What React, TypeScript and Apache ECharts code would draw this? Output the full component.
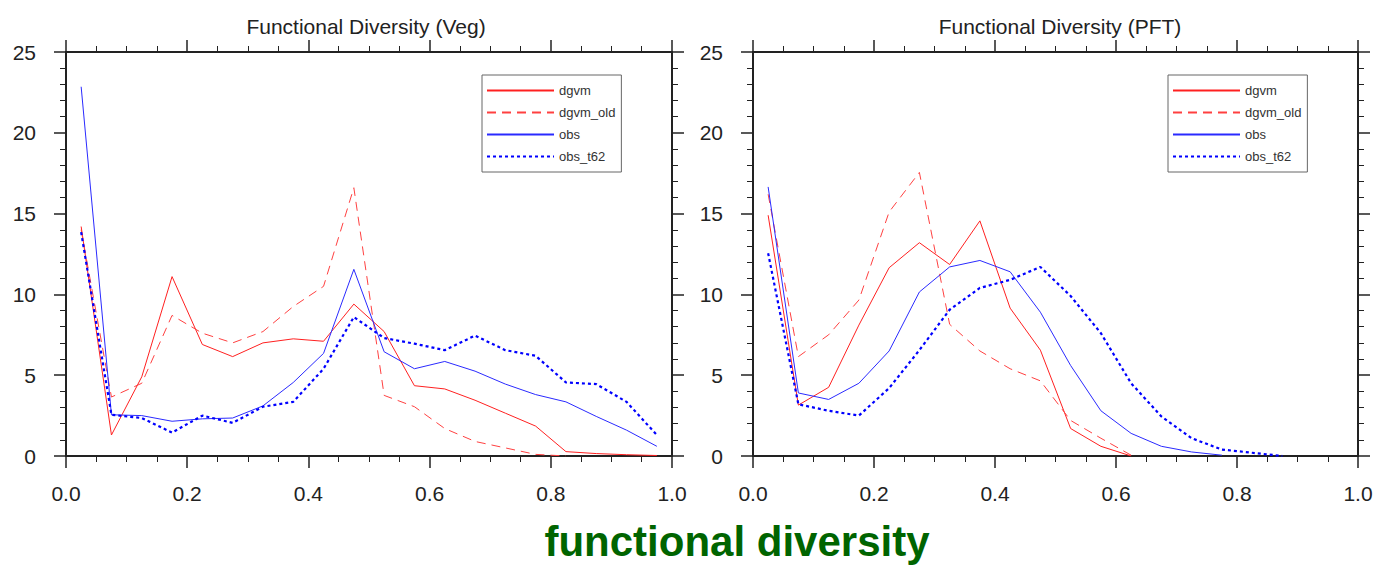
import React, { useEffect, useRef } from "react";
import * as echarts from "echarts";

// Bin centres of the functional-diversity histogram
const binCenters = [
  0.025, 0.075, 0.125, 0.175, 0.225, 0.275, 0.325, 0.375, 0.425, 0.475,
  0.525, 0.575, 0.625, 0.675, 0.725, 0.775, 0.825, 0.875, 0.925, 0.975,
];

const seriesNames = ["dgvm", "dgvm_old", "obs", "obs_t62"];
const panelTitles = ["Functional Diversity (Veg)", "Functional Diversity (PFT)"];
const xAxisTitle = "functional diversity";

// Left panel (Veg)
const vegDgvm = [14.2, 1.3, 4.9, 11.1, 6.9, 6.15, 7.0, 7.25, 7.1, 9.4, 7.7, 4.35, 4.15, 3.45, 2.65, 1.85, 0.27, 0.15, 0.08, 0.03];
const vegDgvmOld = [14.0, 3.65, 4.5, 8.7, 7.6, 7.0, 7.7, 9.25, 10.5, 16.6, 3.75, 3.05, 1.7, 0.9, 0.5, 0.1, 0.0, null, null, null];
const vegObs = [22.85, 2.55, 2.5, 2.15, 2.3, 2.35, 3.1, 4.55, 6.35, 11.55, 6.45, 5.4, 5.85, 5.25, 4.45, 3.8, 3.35, 2.45, 1.6, 0.6];
const vegObsT62 = [13.85, 2.55, 2.35, 1.45, 2.5, 2.05, 3.05, 3.35, 5.4, 8.6, 7.3, 6.95, 6.55, 7.45, 6.55, 6.2, 4.55, 4.45, 3.35, 1.3];

// Right panel (PFT)
const pftDgvm = [14.9, 3.15, 4.25, 8.1, 11.65, 13.2, 11.85, 14.55, 9.15, 6.55, 1.7, 0.6, 0.0, null, null, null, null, null, null, null];
const pftDgvmOld = [16.2, 6.15, 7.5, 9.65, 15.1, 17.55, 8.15, 6.5, 5.4, 4.65, 2.2, 1.1, 0.05, null, null, null, null, null, null, null];
const pftObs = [16.65, 3.9, 3.5, 4.5, 6.5, 10.15, 11.7, 12.1, 11.4, 8.9, 5.6, 2.8, 1.4, 0.6, 0.25, 0.05, null, null, null, null];
const pftObsT62 = [12.55, 3.2, 2.8, 2.5, 4.2, 6.55, 9.05, 10.4, 10.9, 11.7, 9.9, 7.6, 4.5, 2.45, 1.1, 0.4, 0.2, 0.0, null, null];

const FONT = "'Liberation Sans', Arial, Helvetica, sans-serif";
const AXIS_COLOR = "#222";

const toPairs = (vals: (number | null)[]) =>
  vals
    .map((v, i) => [binCenters[i], v] as [number, number | null])
    .filter((p) => p[1] !== null);

const lineStyles = [
  { color: "#ff2020", width: 1, type: "solid" as any },
  { color: "#ff4040", width: 1, type: [9, 6] as any },
  { color: "#2a2aff", width: 1, type: "solid" as any },
  { color: "#0000ff", width: 2.2, type: [3, 3] as any },
];

function xAxisDef(gridIndex: number, position: "top" | "bottom") {
  return {
    type: "value",
    gridIndex,
    position,
    min: 0,
    max: 1,
    interval: 0.2,
    axisLine: { show: true, onZero: false, lineStyle: { color: AXIS_COLOR, width: 2 } },
    axisTick: { show: true, inside: false, length: 12, lineStyle: { color: AXIS_COLOR, width: 1.5 } },
    minorTick: { show: true, splitNumber: 4, length: 6, lineStyle: { color: AXIS_COLOR, width: 1 } },
    splitLine: { show: false },
    axisLabel: {
      show: position === "bottom",
      margin: 27,
      fontSize: 21,
      color: AXIS_COLOR,
      fontFamily: FONT,
      formatter: (v: number) => v.toFixed(1),
    },
  };
}

function yAxisDef(gridIndex: number, position: "left" | "right") {
  return {
    type: "value",
    gridIndex,
    position,
    min: 0,
    max: 25,
    interval: 5,
    axisLine: { show: true, onZero: false, lineStyle: { color: AXIS_COLOR, width: 2 } },
    axisTick: { show: true, inside: false, length: 12, lineStyle: { color: AXIS_COLOR, width: 1.5 } },
    minorTick: { show: true, splitNumber: 5, length: 6, lineStyle: { color: AXIS_COLOR, width: 1 } },
    splitLine: { show: false },
    axisLabel: {
      show: position === "left",
      margin: 30,
      fontSize: 21,
      color: AXIS_COLOR,
      fontFamily: FONT,
    },
  };
}

export default function App() {
  const ref = useRef<HTMLDivElement>(null);

  useEffect(() => {
    if (!ref.current) return;
    const chart = echarts.init(ref.current, undefined, { renderer: "svg" });

    const panels = [
      [vegDgvm, vegDgvmOld, vegObs, vegObsT62],
      [pftDgvm, pftDgvmOld, pftObs, pftObsT62],
    ];

    const series: any[] = [];
    panels.forEach((panel, g) => {
      panel.forEach((vals, k) => {
        series.push({
          name: seriesNames[k],
          type: "line",
          xAxisIndex: g * 2,
          yAxisIndex: g * 2,
          data: toPairs(vals),
          symbol: "none",
          lineStyle: lineStyles[k],
          itemStyle: { color: lineStyles[k].color },
          z: 3,
        });
      });
    });

    const legendCommon = {
      orient: "vertical",
      top: 75,
      data: seriesNames,
      itemWidth: 67,
      itemHeight: 14,
      itemGap: 9,
      padding: [9, 6, 9, 4],
      borderColor: "#666",
      borderWidth: 1,
      selectedMode: false,
      itemStyle: { opacity: 0 },
      textStyle: { fontSize: 13, color: "#333", fontFamily: FONT },
    };

    chart.setOption({
      animation: false,
      backgroundColor: "#ffffff",
      title: [
        {
          text: panelTitles[0],
          left: 361,
          top: 11,
          textAlign: "center",
          textStyle: { fontSize: 21, fontWeight: "normal", color: AXIS_COLOR, fontFamily: FONT },
        },
        {
          text: panelTitles[1],
          left: 1055,
          top: 11,
          textAlign: "center",
          textStyle: { fontSize: 21, fontWeight: "normal", color: AXIS_COLOR, fontFamily: FONT },
        },
      ],
      legend: [
        { ...legendCommon, left: 482 },
        { ...legendCommon, left: 1168 },
      ],
      grid: [
        { left: 66, top: 52, width: 606, height: 404, containLabel: false },
        { left: 753, top: 52, width: 605, height: 404, containLabel: false },
      ],
      xAxis: [
        xAxisDef(0, "bottom"),
        xAxisDef(0, "top"),
        xAxisDef(1, "bottom"),
        xAxisDef(1, "top"),
      ],
      yAxis: [
        yAxisDef(0, "left"),
        yAxisDef(0, "right"),
        yAxisDef(1, "left"),
        yAxisDef(1, "right"),
      ],
      series,
      graphic: [
        {
          type: "text",
          x: 737,
          y: 541,
          style: {
            text: xAxisTitle,
            fill: "#006400",
            font: `bold 42px ${FONT}`,
            align: "center",
            verticalAlign: "middle",
          },
        },
      ],
    });

    return () => chart.dispose();
  }, []);

  return (
    <div
      ref={ref}
      style={{ position: "fixed", left: 0, top: 0, width: 1378, height: 565 }}
    />
  );
}
